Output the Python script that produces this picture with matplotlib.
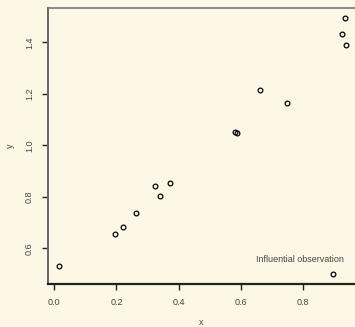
import matplotlib.pyplot as plt

# data
x_vals = [0.016, 0.194, 0.220, 0.263, 0.325, 0.341, 0.373, 0.583, 0.589,
          0.663, 0.749, 0.926, 0.937, 0.940, 0.898]
y_vals = [0.530, 0.654, 0.684, 0.736, 0.842, 0.803, 0.852, 1.052, 1.049,
          1.216, 1.163, 1.431, 1.494, 1.388, 0.499]
x_ticks = [0.0, 0.2, 0.4, 0.6, 0.8]
y_ticks = [0.6, 0.8, 1.0, 1.2, 1.4]
note = "Influential observation"

BG = "#fdf8e5"
TXT = "#444444"

plt.rcParams['font.family'] = ['Liberation Sans', 'DejaVu Sans']

fig = plt.figure(figsize=(3.55, 3.27), dpi=100, facecolor=BG)
ax = fig.add_axes([48 / 355, 43 / 327, 1 - 48 / 355, (284 - 7.5) / 327])
ax.set_facecolor(BG)

ax.plot(x_vals, y_vals, linestyle='none', marker='o', markersize=3.4,
        markerfacecolor='none', markeredgecolor='black', markeredgewidth=0.9)

ax.text(0.791, 0.555, note, ha='center', va='center', fontsize=6.5, color=TXT)

ax.set_xlim(-0.0203, 0.968)
ax.set_ylim(0.4614, 1.535)
ax.set_xticks(x_ticks)
ax.set_yticks(y_ticks)
ax.set_xticklabels([f"{v:.1f}" for v in x_ticks])
ax.set_yticklabels([f"{v:.1f}" for v in y_ticks], rotation=90, va='center')
ax.tick_params(axis='both', labelsize=6.5, labelcolor=TXT, color='#222222',
               length=4, width=1.0, pad=6)

ax.set_xlabel("x", fontsize=6.5, color=TXT, labelpad=8)
ax.set_ylabel("y", fontsize=6.5, color=TXT, labelpad=7)

ax.spines['right'].set_visible(False)
ax.spines['top'].set_color('#777777')
ax.spines['top'].set_linewidth(1.2)
ax.spines['left'].set_color('#666666')
ax.spines['left'].set_linewidth(1.4)
ax.spines['bottom'].set_color('#222222')
ax.spines['bottom'].set_linewidth(1.6)

fig.savefig("out.png", dpi=100, facecolor=BG)
